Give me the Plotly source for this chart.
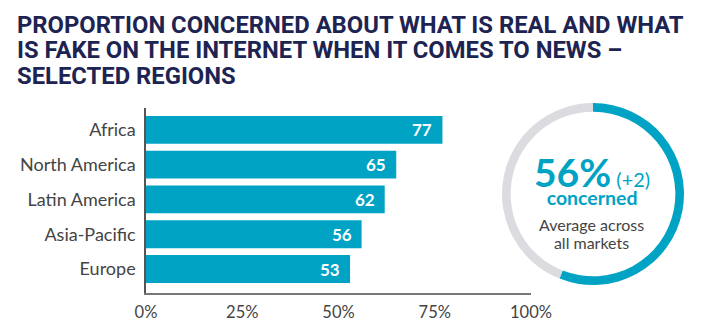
import plotly.graph_objects as go

regions = ["Africa", "North America", "Latin America", "Asia-Pacific", "Europe"]
values = [77, 65, 62, 56, 53]
x_ticks = [0, 25, 50, 75, 100]
avg_value = 56
avg_change = "+2"
title_lines = [
    "PROPORTION CONCERNED ABOUT WHAT IS REAL AND WHAT",
    "IS FAKE ON THE INTERNET WHEN IT COMES TO NEWS –",
    "SELECTED REGIONS",
]

W, H = 710, 336
TEAL = "#00A3C4"
NAVY = "#1E2452"
GREY_TXT = "#444444"

fig = go.Figure()
fig.add_trace(go.Bar(
    x=values, y=regions, orientation="h",
    marker=dict(color=TEAL, line=dict(width=0)),
    width=0.8, hoverinfo="skip", showlegend=False,
))

for r, v in zip(regions, values):
    fig.add_annotation(x=v, y=r, xref="x", yref="y", text=f"<b>{v}</b>",
                       showarrow=False, xanchor="right", xshift=-8,
                       font=dict(family="Lato", size=17, color="white"))

# donut
cx, cy, R = 593, 194, 91
fig.add_trace(go.Pie(
    values=[avg_value, 100 - avg_value], sort=False, direction="clockwise",
    rotation=0, hole=0.905, textinfo="none", hoverinfo="skip",
    marker=dict(colors=[TEAL, "#DCDCE0"], line=dict(width=0)),
    domain=dict(x=[(cx - R) / W, (cx + R) / W], y=[1 - (cy + R) / H, 1 - (cy - R) / H]),
    showlegend=False,
))

def px(x): return x / W
def py(y): return 1 - y / H

# big figure + "concerned" (line spacing = 1.3 * base size)
fig.add_annotation(
    x=px(592), y=py(147), xref="paper", yref="paper", xanchor="center", yanchor="top",
    text=(f"<span style='font-size:39px'><b>{avg_value}%</b></span>"
          f"<span style='font-size:20px'> ({avg_change})</span><br>"
          f"<span style='font-size:19.5px'><b>concerned</b></span>"),
    showarrow=False, font=dict(family="Lato", size=14.1, color=TEAL))
fig.add_annotation(
    x=px(591), y=py(213), xref="paper", yref="paper", xanchor="center", yanchor="top",
    text=("<span style='font-size:16px'>Average across</span><br>"
          "<span style='font-size:16px'>all markets</span>"),
    showarrow=False, font=dict(family="Lato", size=13.6, color=GREY_TXT))

title_txt = "<br>".join(f"<span style='font-size:23.8px'><b>{l}</b></span>" for l in title_lines)
fig.add_annotation(x=px(15), y=py(9), xref="paper", yref="paper",
                   text=title_txt, showarrow=False, xanchor="left", yanchor="top", align="left",
                   font=dict(family="Liberation Sans Narrow, Roboto", size=19.6, color=NAVY))

fig.update_layout(
    width=W, height=H, margin=dict(l=0, r=0, t=0, b=0, autoexpand=False),
    paper_bgcolor="white", plot_bgcolor="white",
    xaxis=dict(domain=[146 / W, 531 / W], range=[0, 100], tickvals=x_ticks,
               ticktext=[f"{t}%" for t in x_ticks], showgrid=False, zeroline=False,
               showline=True, linecolor="#777777", linewidth=1.5, automargin=False,
               tickfont=dict(family="Lato", size=16.5, color=GREY_TXT), ticks="",
               ticklabelstandoff=3),
    yaxis=dict(domain=[1 - 293 / H, 1 - 108 / H], categoryorder="array", categoryarray=regions,
               range=[4.69, -0.63], showgrid=False, zeroline=False, automargin=False,
               showline=True, linecolor="#555555", linewidth=1.5,
               tickfont=dict(family="Lato", size=18, color=GREY_TXT), ticks="",
               ticklabelstandoff=5),
    bargap=0.2,
)

fig.write_html("out.html")
